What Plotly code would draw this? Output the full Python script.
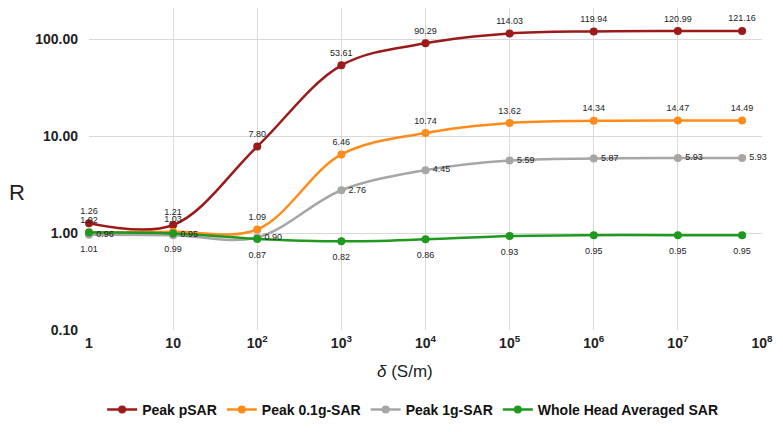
import plotly.graph_objects as go

sigma = [1, 10, 100, 1000, 1e4, 1e5, 1e6, 1e7, 5.8e7]
peak_psar = [1.26, 1.21, 7.80, 53.61, 90.29, 114.03, 119.94, 120.99, 121.16]
peak_01g = [1.02, 1.03, 1.09, 6.46, 10.74, 13.62, 14.34, 14.47, 14.49]
peak_1g = [0.96, 0.95, 0.90, 2.76, 4.45, 5.59, 5.87, 5.93, 5.93]
whole_head = [1.01, 0.99, 0.87, 0.82, 0.86, 0.93, 0.95, 0.95, 0.95]

x_tickvals = [1, 10, 100, 1000, 1e4, 1e5, 1e6, 1e7, 1e8]
x_ticktext = ["1", "10", "10<sup>2</sup>", "10<sup>3</sup>", "10<sup>4</sup>",
              "10<sup>5</sup>", "10<sup>6</sup>", "10<sup>7</sup>", "10<sup>8</sup>"]
y_tickvals = [0.1, 1, 10, 100]
y_ticktext = ["0.10", "1.00", "10.00", "100.00"]

series = [
    ("Peak pSAR", peak_psar, "#9c1a1a", "top center", 10),
    ("Peak 0.1g-SAR", peak_01g, "#ff8c1a", "top center", 10),
    ("Peak 1g-SAR", peak_1g, "#a6a6a6", "middle right", 10),
    ("Whole Head Averaged SAR", whole_head, "#1f9a1f", "bottom center", 18),
]

fig = go.Figure()
for name, vals, color, _, _ in series:
    fig.add_trace(go.Scatter(
        x=sigma, y=vals, name=name, mode="lines+markers",
        line=dict(color=color, width=2.5, shape="spline", smoothing=1.0),
        marker=dict(color=color, size=8), cliponaxis=False,
    ))
for name, vals, color, pos, msize in series:
    fig.add_trace(go.Scatter(
        x=sigma, y=vals, mode="markers+text", showlegend=False,
        marker=dict(size=msize, opacity=0), cliponaxis=False,
        text=[f"{v:.2f}" for v in vals], textposition=pos,
        textfont=dict(family="Liberation Sans", size=9, color="#222222"),
        hoverinfo="skip",
    ))

tick_font = dict(family="Liberation Sans", size=14, color="#222222", weight="bold")
fig.update_layout(
    width=783, height=432,
    margin=dict(l=89, r=21, t=8, b=102, autoexpand=False),
    plot_bgcolor="white", paper_bgcolor="white",
    font=dict(family="Liberation Sans", color="#222222"),
    xaxis=dict(type="log", range=[0, 8], tickvals=x_tickvals, ticktext=x_ticktext,
               showgrid=True, gridcolor="#d9d9d9", gridwidth=1, zeroline=False,
               showline=False, ticks="", ticklabelstandoff=3, tickfont=tick_font),
    yaxis=dict(type="log", range=[-1, 2.32], tickvals=y_tickvals, ticktext=y_ticktext,
               showgrid=True, gridcolor="#d9d9d9", gridwidth=1, zeroline=False,
               showline=False, ticks="", ticklabelstandoff=10, tickfont=tick_font),
    showlegend=True,
    legend=dict(orientation="h", xref="container", x=0.527, xanchor="center",
                yref="container", y=(432 - 410) / 432, yanchor="middle",
                font=dict(family="Liberation Sans", size=14, color="#111111", weight="bold"),
                itemwidth=30),
)
fig.add_annotation(text="R", xref="paper", yref="paper", x=-0.122, y=(330 - 193) / 322,
                   showarrow=False, font=dict(family="Liberation Sans", size=22, color="#222222"))
fig.add_annotation(text="<i>δ</i> (S/m)", xref="paper", yref="paper", x=0.47, y=-(383 - 330) / 322,
                   showarrow=False, font=dict(family="Liberation Sans", size=17, color="#222222"))

fig.write_html("out.html")
